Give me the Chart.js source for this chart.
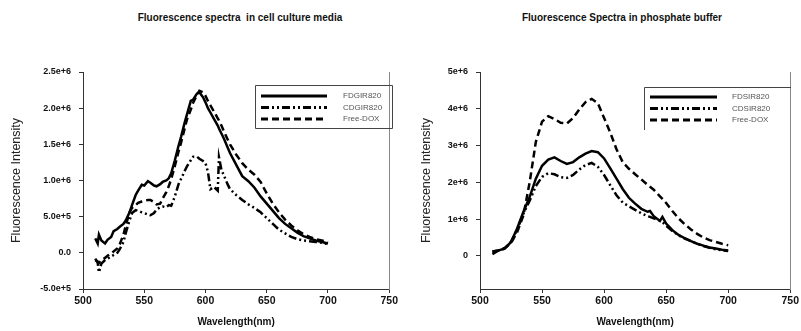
<!DOCTYPE html>
<html>
<head>
<meta charset="utf-8">
<script src="https://cdn.jsdelivr.net/npm/chart.js@4/dist/chart.umd.min.js"></script>
<style>
  body { margin: 0; background: #fff; }
  #wrap { position: relative; width: 801px; height: 331px; font-family: "Liberation Sans", Arial, sans-serif; }
  .box { position: absolute; top: 0; height: 331px; }
  .ttl { position: absolute; top: 12px; font-weight: bold; font-size: 10px; color: #111; white-space: pre; text-align: center; }
</style>
</head>
<body>
<div id="wrap">
  <div class="ttl" style="left:90px;width:300px">Fluorescence spectra  in cell culture media</div>
  <div class="ttl" style="left:472px;width:300px">Fluorescence Spectra in phosphate buffer</div>
  <div class="box" style="left:0;width:400px"><canvas id="cellChart"></canvas></div>
  <div class="box" style="left:400px;width:401px"><canvas id="bufferChart"></canvas></div>
</div>
<script>
// cell culture media (intensity in millions)
const wlCell = [510,512,513,515,518,520,523,525,528,530,533,535,538,540,543,545,548,550,553,555,558,560,563,565,568,570,572,575,578,580,583,585,588,590,593,595,598,600,602,604,607,610,611,613,615,618,620,625,630,635,640,645,650,655,660,665,670,675,680,685,690,695,700];
const fdCell = [0.2,0.13,0.25,0.17,0.13,0.18,0.22,0.3,0.33,0.36,0.4,0.45,0.56,0.66,0.8,0.86,0.94,0.93,0.99,0.97,0.93,0.92,0.95,0.98,1.0,1.03,1.1,1.28,1.48,1.6,1.8,1.92,2.1,2.12,2.2,2.22,2.15,2.08,2.0,1.94,1.85,1.76,1.72,1.65,1.58,1.46,1.38,1.22,1.06,0.99,0.9,0.78,0.68,0.58,0.48,0.4,0.34,0.28,0.23,0.2,0.17,0.15,0.13];
const cdCell = [-0.08,-0.14,-0.27,-0.15,-0.1,-0.08,-0.05,-0.03,0.0,0.05,0.15,0.28,0.45,0.55,0.59,0.58,0.56,0.55,0.53,0.52,0.55,0.6,0.63,0.64,0.63,0.66,0.65,0.78,0.95,1.02,1.13,1.2,1.28,1.33,1.33,1.3,1.27,1.24,1.12,0.88,0.91,0.86,1.32,1.15,1.07,0.95,0.88,0.8,0.73,0.67,0.62,0.56,0.48,0.4,0.32,0.27,0.22,0.19,0.17,0.16,0.15,0.14,0.12];
const doxCell = [-0.1,-0.12,-0.14,-0.1,-0.07,-0.04,-0.01,0.02,0.06,0.12,0.25,0.38,0.56,0.62,0.66,0.69,0.71,0.72,0.73,0.73,0.7,0.67,0.68,0.75,0.84,0.92,1.02,1.2,1.4,1.52,1.72,1.85,1.98,2.08,2.18,2.24,2.22,2.17,2.1,2.04,1.95,1.86,1.83,1.76,1.68,1.57,1.5,1.36,1.24,1.15,1.08,0.98,0.82,0.68,0.56,0.46,0.38,0.31,0.26,0.22,0.19,0.17,0.15];

// phosphate buffer (intensity in millions)
const wlBuffer = [510,515,520,525,530,535,540,545,550,555,560,565,570,575,580,585,590,595,600,605,610,615,620,625,630,635,637,640,645,647,650,655,660,665,670,675,680,685,690,695,700];
const fdBuffer = [0.12,0.15,0.2,0.38,0.75,1.2,1.6,2.1,2.45,2.62,2.68,2.58,2.5,2.55,2.68,2.78,2.85,2.82,2.65,2.38,2.1,1.82,1.58,1.42,1.28,1.2,1.22,1.08,0.95,1.06,0.88,0.7,0.57,0.48,0.4,0.33,0.28,0.23,0.2,0.17,0.15];
const cdBuffer = [0.05,0.15,0.2,0.38,0.72,1.15,1.5,1.9,2.15,2.25,2.22,2.14,2.12,2.2,2.35,2.47,2.53,2.42,2.2,1.92,1.65,1.45,1.35,1.25,1.16,1.08,1.06,1.02,0.96,0.92,0.82,0.68,0.56,0.47,0.4,0.33,0.27,0.22,0.18,0.15,0.13];
const doxBuffer = [0.12,0.15,0.22,0.35,0.65,1.1,2.0,3.1,3.65,3.8,3.72,3.62,3.6,3.75,3.98,4.18,4.27,4.15,3.75,3.35,2.9,2.55,2.37,2.22,2.08,1.93,1.88,1.8,1.62,1.55,1.44,1.22,1.02,0.86,0.72,0.6,0.5,0.43,0.38,0.33,0.29];

const cellLabels = ['FDGIR820', 'CDGIR820', 'Free-DOX'];
const bufferLabels = ['FDSIR820', 'CDSIR820', 'Free-DOX'];
const xTicks = [500, 550, 600, 650, 700, 750];

const dashes = [[], [8,3,2,3,2,3], [7,4]];

function makeSets(wl, series, labels){
    return series.map((vals, i) => ({
        label: labels[i],
        data: vals.map((v, k) => ({x: wl[k], y: v})),
        borderColor: '#000',
        borderWidth: 2.5,
        borderDash: dashes[i],
        pointRadius: 0,
        tension: 0,
        fill: false
    }));
}

// legend drawn as a framed box like the original
const boxLegend = {
    id: 'boxLegend',
    afterDraw(chart, args, o){
        const ctx = chart.ctx;
        ctx.save();
        ctx.strokeStyle = '#444';
        ctx.lineWidth = 1;
        ctx.setLineDash([]);
        ctx.beginPath();
        if (o.open) {
            ctx.moveTo(o.x + 0.5, o.y + o.h);
            ctx.lineTo(o.x + 0.5, o.y + 0.5);
            ctx.lineTo(o.x + o.w, o.y + 0.5);
        } else {
            ctx.rect(o.x + 0.5, o.y + 0.5, o.w, o.h);
        }
        ctx.stroke();
        ctx.font = '8px "Liberation Sans", Arial, sans-serif';
        ctx.fillStyle = '#555';
        ctx.textBaseline = 'middle';
        chart.data.datasets.forEach((ds, i) => {
            const y = o.y + o.row0 + i * o.rowGap;
            ctx.strokeStyle = '#000';
            ctx.lineWidth = 3;
            ctx.setLineDash(ds.borderDash);
            ctx.beginPath();
            ctx.moveTo(o.x + o.lineX, y);
            ctx.lineTo(o.x + o.lineX + o.lineLen, y);
            ctx.stroke();
            ctx.fillText(ds.label, o.x + o.textX, y);
        });
        ctx.restore();
    }
};

function makeChart(id, sets, yMin, yMax, yStep, yFmt, yWidth, titlePad, rightPad, legend){
    return new Chart(document.getElementById(id), {
        type: 'line',
        data: { datasets: sets },
        options: {
            responsive: true,
            maintainAspectRatio: false,
            animation: false,
            layout: { padding: { top: 72, right: rightPad, bottom: 0, left: 0 } },
            plugins: { legend: { display: false }, tooltip: { enabled: false }, boxLegend: legend },
            scales: {
                x: {
                    type: 'linear', min: 500, max: 750,
                    afterBuildTicks: s => { s.ticks = xTicks.map(v => ({value: v})); },
                    afterFit: s => { s.height = 42; },
                    border: { color: '#333', width: 1 },
                    grid: { drawOnChartArea: false, drawTicks: true, tickLength: 4, color: '#333' },
                    ticks: { color: '#111', padding: 2, maxRotation: 0, font: { size: 10.5, weight: 'bold', family: '"Liberation Sans", Arial' } },
                    title: { display: true, text: 'Wavelength(nm)', color: '#111', padding: { top: 0, bottom: 3 },
                             font: { size: 10, weight: 'bold', family: '"Liberation Sans", Arial' } }
                },
                y: {
                    type: 'linear', min: yMin, max: yMax,
                    ticks: { stepSize: yStep, color: '#111', padding: 8, callback: yFmt,
                             font: { size: 9, weight: 'bold', family: '"Liberation Sans", Arial' } },
                    afterBuildTicks: s => { s.ticks = s.ticks.filter(t => Math.abs(t.value / yStep - Math.round(t.value / yStep)) < 1e-6); },
                    afterFit: s => { s.width = yWidth; },
                    border: { color: '#333', width: 1 },
                    grid: { drawOnChartArea: false, drawTicks: true, tickLength: 4, color: '#333' },
                    title: { display: true, text: 'Fluorescence Intensity', color: '#222', padding: { top: titlePad, bottom: 0 },
                             font: { size: 12.5, family: '"Liberation Sans", Arial' } }
                },
                y2: {
                    position: 'right', min: yMin, max: yMax,
                    ticks: { display: false },
                    grid: { display: false, drawTicks: false },
                    border: { color: '#888', width: 1 },
                    afterFit: s => { s.width = 0; }
                }
            }
        },
        plugins: [boxLegend]
    });
}

makeChart('cellChart', makeSets(wlCell, [fdCell, cdCell, doxCell], cellLabels),
    -0.5, 2.5, 0.5,
    v => v === 0 ? '0.0' : (v * 1e6).toExponential(1),
    83, 9, 4,
    { x: 255, y: 85, w: 137, h: 43, open: false, row0: 11, rowGap: 11.5, lineX: 6, lineLen: 66, textX: 88 });

makeChart('bufferChart', makeSets(wlBuffer, [fdBuffer, cdBuffer, doxBuffer], bufferLabels),
    -0.9, 5, 1,
    v => v === 0 ? '0' : (v * 1e6).toExponential(0),
    80, 19, 10,
    { x: 244, y: 87, w: 147, h: 43, open: true, row0: 10, rowGap: 11.5, lineX: 6, lineLen: 67, textX: 88 });
</script>
</body>
</html>
